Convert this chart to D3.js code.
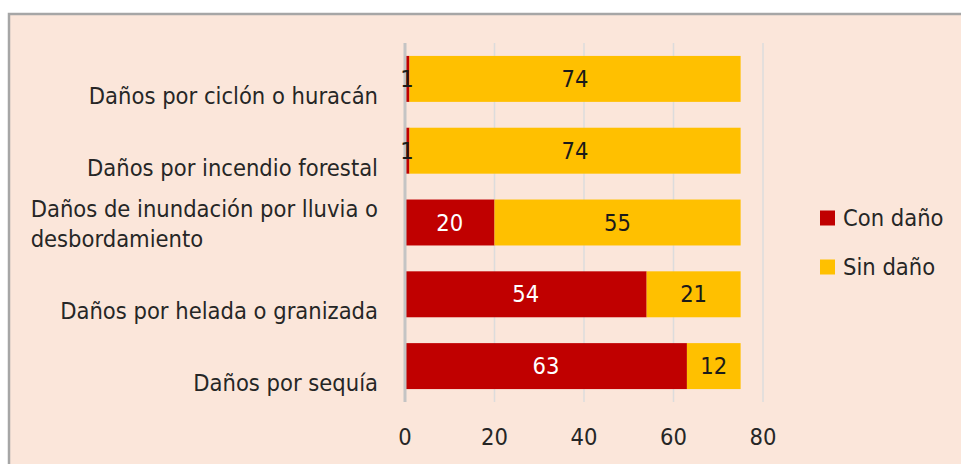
<!DOCTYPE html>
<html>
<head>
<meta charset="utf-8">
<script src="https://cdn.jsdelivr.net/npm/d3@7"></script>
<style>
  html, body { margin: 0; padding: 0; background: #ffffff; }
  svg { display: block; }
  text { font-family: "DejaVu Sans Condensed", "DejaVu Sans", sans-serif; fill: #262626; }
</style>
</head>
<body>
<svg id="chart" width="961" height="464"></svg>
<script>
// Categories, top to bottom
const categories = [
  ["Daños por ciclón o huracán"],
  ["Daños por incendio forestal"],
  ["Daños de inundación por lluvia o", "desbordamiento"],
  ["Daños por helada o granizada"],
  ["Daños por sequía"]
];
const conDano = [1, 1, 20, 54, 63];
const sinDano = [74, 74, 55, 21, 12];
const seriesNames = ["Con daño", "Sin daño"];
const seriesColors = ["#c00000", "#ffc000"];
const xTicks = [0, 20, 40, 60, 80];

const FS = 23.5;
const svg = d3.select("#chart");

// Chart frame
svg.append("rect")
  .attr("x", 9).attr("y", 14)
  .attr("width", 980).attr("height", 480)
  .attr("fill", "#fbe6da")
  .attr("stroke", "#a6a6a6").attr("stroke-width", 2.5);

const x = d3.scaleLinear().domain([0, 80]).range([405, 763]);
const y = d3.scaleBand().domain(d3.range(categories.length)).range([43, 402]).paddingInner(0.36).paddingOuter(0.18);

// Vertical gridlines
svg.append("g").selectAll("line").data(xTicks.slice(1)).join("line")
  .attr("x1", d => x(d)).attr("x2", d => x(d))
  .attr("y1", 43).attr("y2", 402)
  .attr("stroke", "#dcdcdc").attr("stroke-width", 1.5);

// Stacked bars
const stack = categories.map((c, i) => [
  { key: 0, x0: 0, x1: conDano[i], v: conDano[i], i },
  { key: 1, x0: conDano[i], x1: conDano[i] + sinDano[i], v: sinDano[i], i }
]);
const segs = stack.flat();

svg.append("g").selectAll("rect").data(segs).join("rect")
  .attr("x", d => x(d.x0))
  .attr("width", d => x(d.x1) - x(d.x0))
  .attr("y", d => y(d.i))
  .attr("height", y.bandwidth())
  .attr("fill", d => seriesColors[d.key]);

// Category axis line at zero
svg.append("line")
  .attr("x1", x(0)).attr("x2", x(0))
  .attr("y1", 43).attr("y2", 402)
  .attr("stroke", "#c4c4c4").attr("stroke-width", 3);

// Value labels
svg.append("g").selectAll("text").data(segs).join("text")
  .attr("x", d => d.v < 3 ? x(d.x0) + 2 : (x(d.x0) + x(d.x1)) / 2)
  .attr("y", d => y(d.i) + y.bandwidth() / 2)
  .attr("text-anchor", "middle")
  .attr("dominant-baseline", "central")
  .attr("font-size", FS)
  .style("fill", d => d.key === 0 && d.v >= 3 ? "#ffffff" : "#1a1a1a")
  .text(d => d.v);

// Category labels: each block right-aligned to the axis, lines left-aligned inside it
const lab = svg.append("g");
categories.forEach((lines, i) => {
  const cy = y(i) + y.bandwidth() / 2;
  const start = lines.length === 1 ? cy + 17 : cy - 14;
  const g = lab.append("g");
  const texts = lines.map((t, k) => g.append("text")
    .attr("y", start + k * 30)
    .attr("dominant-baseline", "central")
    .attr("font-size", FS)
    .text(t));
  const w = d3.max(texts, t => t.node().getComputedTextLength());
  texts.forEach(t => t.attr("x", 378 - w));
});

// X tick labels
svg.append("g").selectAll("text").data(xTicks).join("text")
  .attr("x", d => x(d))
  .attr("y", 437)
  .attr("text-anchor", "middle")
  .attr("dominant-baseline", "central")
  .attr("font-size", FS)
  .text(d => d);

// Legend
const leg = svg.append("g");
seriesNames.forEach((n, k) => {
  const ly = 218 + k * 49;
  leg.append("rect")
    .attr("x", 820).attr("y", ly - 7.5)
    .attr("width", 15).attr("height", 15)
    .attr("fill", seriesColors[k]);
  leg.append("text")
    .attr("x", 843).attr("y", ly)
    .attr("dominant-baseline", "central")
    .attr("font-size", FS)
    .text(n);
});
</script>
</body>
</html>
